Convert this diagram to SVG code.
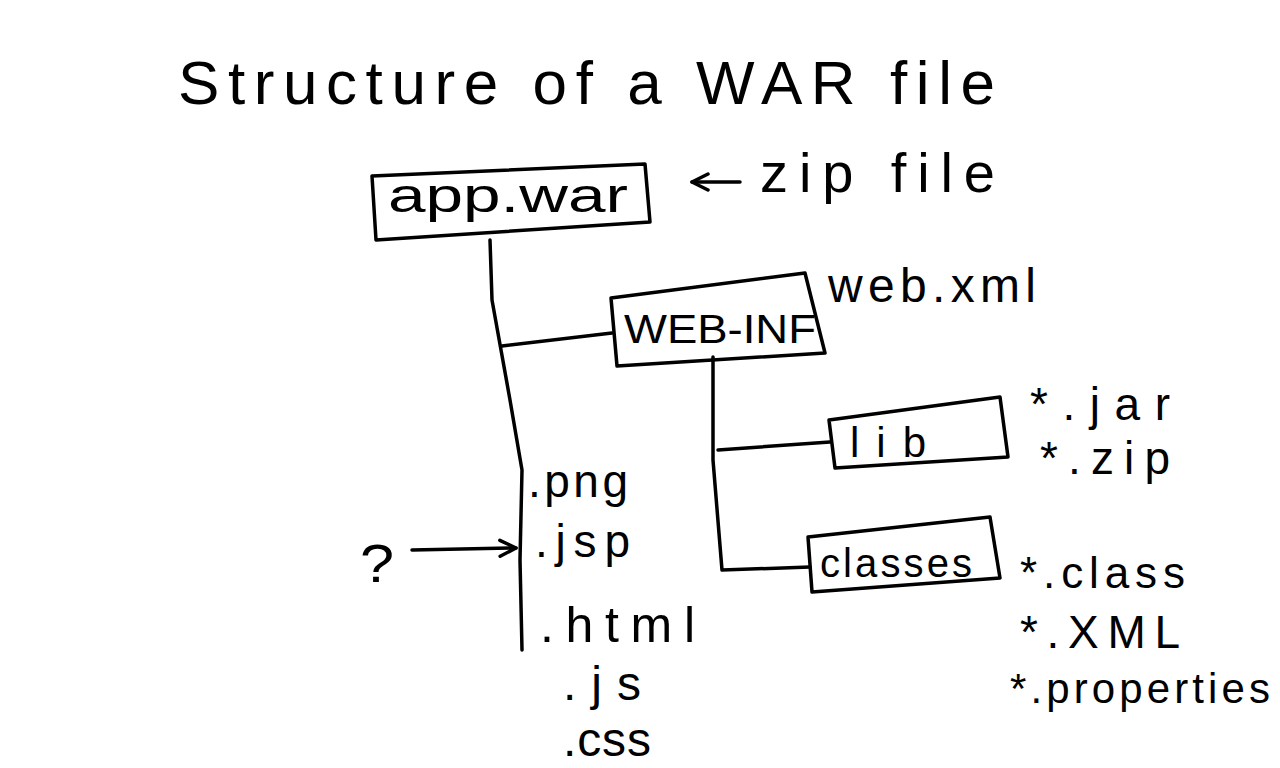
<svg xmlns="http://www.w3.org/2000/svg" width="1280" height="768" viewBox="0 0 1280 768">
<defs>
<style>
.t{font-family:"Liberation Sans","DejaVu Sans",sans-serif;fill:#000;}
.box{fill:none;stroke:#000;stroke-width:3.5;stroke-linejoin:round;}
.ln{fill:none;stroke:#000;stroke-width:3.5;stroke-linecap:round;stroke-linejoin:round;}
</style>
<marker id="ah" viewBox="0 0 20 20" refX="18" refY="10" markerWidth="20" markerHeight="20" markerUnits="userSpaceOnUse" orient="auto">
<path d="M2,2 L18,10 L2,18" fill="none" stroke="#000" stroke-width="3.5" stroke-linecap="round" stroke-linejoin="round"/>
</marker>
</defs>
<rect width="1280" height="768" fill="#fff"/>
<text class="t" x="178" y="104" font-size="62" textLength="817" lengthAdjust="spacing">Structure of a WAR file</text>
<g id="connectors">
<path class="ln" d="M490,240 L492,300 L510,400 L522,470 L520,560 L522,650"/>
<path class="ln" d="M502,346 L612,333"/>
<path class="ln" d="M713,357 L713,460 L722,570 L810,567"/>
<path class="ln" d="M718,450 L830,442"/>
<path class="ln" d="M740,182 L692,182" marker-end="url(#ah)"/>
<path class="ln" d="M412,550 L516,548" marker-end="url(#ah)"/>
</g>
<g id="appwar">
<path class="box" d="M372,176 L645,164 L650,222 L376,240 Z"/>
<text class="t" x="388" y="212" font-size="48" textLength="240" lengthAdjust="spacingAndGlyphs">app.war</text>
</g>
<g id="zipnote">
<text class="t" x="760" y="192" font-size="56" textLength="235" lengthAdjust="spacing">zip file</text>
</g>
<g id="webinf">
<path class="box" d="M611,298 L805,273 L825,353 L617,366 Z"/>
<text class="t" x="624" y="343" font-size="40" textLength="192" lengthAdjust="spacingAndGlyphs">WEB-INF</text>
<text class="t" x="828" y="302" font-size="48" textLength="208" lengthAdjust="spacing">web.xml</text>
</g>
<g id="lib">
<path class="box" d="M829,420 L1000,397 L1008,457 L835,468 Z"/>
<text class="t" x="850" y="457" font-size="42" textLength="76" lengthAdjust="spacing">lib</text>
<text class="t" x="1030" y="420" font-size="46" textLength="140" lengthAdjust="spacing">*.jar</text>
<text class="t" x="1040" y="474" font-size="46" textLength="130" lengthAdjust="spacing">*.zip</text>
</g>
<g id="classes">
<path class="box" d="M808,537 L990,517 L1000,578 L812,592 Z"/>
<text class="t" x="820" y="577" font-size="40" textLength="152" lengthAdjust="spacing">classes</text>
<text class="t" x="1020" y="588" font-size="44" textLength="165" lengthAdjust="spacing">*.class</text>
<text class="t" x="1020" y="648" font-size="46" textLength="160" lengthAdjust="spacing">*.XML</text>
<text class="t" x="1010" y="703" font-size="42" textLength="260" lengthAdjust="spacing">*.properties</text>
</g>
<g id="webfiles">
<text class="t" x="528" y="497" font-size="46" textLength="100" lengthAdjust="spacing">.png</text>
<text class="t" x="535" y="557" font-size="46" textLength="95" lengthAdjust="spacing">.jsp</text>
<text class="t" x="540" y="642" font-size="50" textLength="155" lengthAdjust="spacing">.html</text>
<text class="t" x="563" y="700" font-size="48" textLength="78" lengthAdjust="spacing">.js</text>
<text class="t" x="563" y="756" font-size="48" textLength="88" lengthAdjust="spacing">.css</text>
</g>
<g id="question">
<text class="t" x="360" y="582" font-size="54" textLength="34" lengthAdjust="spacingAndGlyphs">?</text>
</g>
</svg>
